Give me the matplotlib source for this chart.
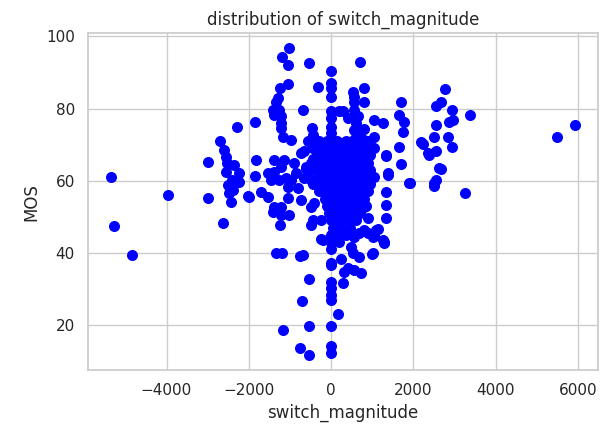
import matplotlib
matplotlib.use("Agg")
import matplotlib.pyplot as plt
import numpy as np
import seaborn as sns

# outlying points, left of the main cluster
left_x = [-5340, -5270, -4830, -3960, -2990, -2990, -2690, -2600, -2620, -2550,
          -2520, -2550, -2500, -2480, -2430, -2350, -2280, -2230, -2230, -2010,
          -1840, -1840, -1820, -1700, -1530, -1380, -1410, -1210, -1210, -1020,
          -1240, -1330, -1190, -750, -530, -700, -1160, -530, -750, -530,
          -680, -240, -1530, -1380, -1460, -1260, -1090, -1040, -970, -1040,
          -1380, -1140, -1210, -2400, -2380, -1990]
left_y = [61.1, 47.5, 39.4, 56.1, 65.3, 55.3, 71.1, 68.6, 48.3, 66.7,
          65.0, 62.5, 58.9, 56.7, 54.2, 64.4, 75.0, 62.2, 59.7, 55.8,
          61.4, 76.4, 65.6, 56.9, 55.6, 52.8, 51.4, 52.8, 50.6, 50.6,
          47.8, 40.0, 40.0, 39.2, 32.8, 26.7, 18.6, 19.7, 13.6, 11.7,
          39.4, 43.9, 62.2, 62.5, 60.3, 60.3, 60.8, 58.3, 60.3, 55.3,
          65.8, 65.8, 63.9, 60.3, 57.5, 55.6]

# points to the right of the main cluster
right_x = [2770, 2550, 2670, 2940, 3370, 2860, 2960, 2550, 2500, 2840,
           2230, 2940, 2380, 2550, 2670, 2550, 2500, 3250, 1920, 1700,
           1650, 1700, 1650, 1770, 1750, 2180, 5490, 5920, 1330, 1380,
           1330, 1330, 1330, 1290, 1020, 1140, 730, 290, 170, 1000,
           680, 320, 560, 1330, 1380, 1260, 1090, 1020, 800, 900,
           800, 560, 680, 1890, 2350, 2620, 2500, 240, 410, 900,
           1040, 490, 530, 1290]
right_y = [85.3, 80.6, 81.7, 79.7, 78.3, 76.4, 76.9, 75.3, 72.2, 72.2,
           70.3, 69.2, 67.2, 68.1, 63.3, 60.3, 58.6, 56.7, 59.4, 64.7,
           69.2, 81.9, 78.3, 76.4, 73.6, 70.6, 72.2, 75.3, 66.9, 61.7,
           56.9, 53.3, 49.7, 43.1, 40.0, 46.7, 34.4, 31.7, 23.1, 39.7,
           38.9, 34.7, 35.3, 67.2, 62.2, 43.6, 46.4, 44.4, 52.8, 49.7,
           46.4, 44.4, 45.6, 59.4, 67.8, 63.6, 59.4, 38.3, 35.8, 45.6,
           44.7, 41.7, 40.0, 42.8]

# upper part of the cluster and the vertical column at zero
upper_x = [-1020, -1190, -1040, -530, 0, 0, 0, 0, -1040, -1240,
           -320, -1290, -1330, -1410, -1260, -1380, -1210, -680, -1210, -1210,
           -460, -440, -440, 0, 0, 0, 0, 0, 0, -1160,
           -970, 190, 700, 800, 530, 560, 560, 800, 290, 410,
           560, 660, 610, 1040, 1260, 800, 1040, 800, -650, -610,
           -450, -450, 550, 600, 500, 700, -730, -610, -490, -660,
           -490, -410, -440, -490, -240, -190, -730, -440, -850, -800,
           -900, 0, 0, 0, 0, 0, 0, 0, 0, 0]
upper_y = [96.7, 94.2, 92.2, 92.5, 90.3, 87.2, 85.8, 83.3, 86.9, 85.8,
           86.1, 82.8, 81.7, 79.7, 79.7, 78.3, 77.8, 79.7, 76.1, 74.7,
           74.7, 72.8, 71.7, 79.2, 77.5, 75.0, 73.3, 71.4, 69.4, 72.2,
           71.4, 79.2, 92.8, 85.8, 84.7, 83.3, 81.9, 81.9, 79.2, 77.5,
           79.7, 77.8, 76.1, 76.9, 76.1, 74.4, 72.2, 71.4, 68.1, 63.9,
           66.0, 69.0, 74.0, 72.0, 70.0, 73.0, 67.8, 63.1, 60.3, 60.8,
           52.8, 53.9, 49.2, 47.8, 49.2, 43.6, 54.7, 71.4, 62.0, 58.0,
           65.0, 36.7, 37.2, 32.0, 30.3, 28.3, 26.9, 19.7, 14.2, 12.2]

# dense core of the distribution
core_x = [-550, -300, -100, 0, 150, 350, 500, 700, 900,
          -450, -200, 50, 250, 450, 650, 850, 1050,
          -350, -150, 0, 200, 400, 600, 800, 950,
          -500, -250, -50, 100, 300, 500, 700, 900,
          -400, -200, 0, 200, 350, 550, 750, 950,
          -550, -300, -100, 50, 250, 450, 650, 850, 1050,
          -450, -200, 0, 150, 350, 550, 750, 950,
          -300, -100, 100, 300, 500, 700, 900,
          -150, 0, 200, 400, 600, 800,
          -100, 50, 250, 450, 650, 850,
          -50, 100, 300, 500, 700,
          0, 200, 400, 600,
          50, 250, 450,
          0, 150, 350,
          0, 200, 0]
core_y = [71, 71, 71, 71, 71, 71, 71, 71, 71,
          69, 69, 69, 69, 69, 69, 69, 69,
          67, 67, 67, 67, 67, 67, 67, 67,
          65, 65, 65, 65, 65, 65, 65, 65,
          63, 63, 63, 63, 63, 63, 63, 63,
          61, 61, 61, 61, 61, 61, 61, 61, 61,
          59, 59, 59, 59, 59, 59, 59, 59,
          57, 57, 57, 57, 57, 57, 57,
          55, 55, 55, 55, 55, 55,
          53, 53, 53, 53, 53, 53,
          51, 51, 51, 51, 51,
          49, 49, 49, 49,
          47, 47, 47,
          45, 45, 45,
          43, 43, 41]

switch_magnitude = np.array(left_x + right_x + upper_x + core_x)
mos = np.array(left_y + right_y + upper_y + core_y)

sns.set_theme(style="whitegrid")

fig = plt.figure(figsize=(6.04, 4.34), dpi=100)
ax = fig.add_axes([0.146, 0.147, 0.844, 0.777])
ax.scatter(switch_magnitude, mos, color="blue", s=48)
ax.set_title("distribution of switch_magnitude")
ax.set_xlabel("switch_magnitude")
ax.set_ylabel("MOS")

fig.savefig("out.png", dpi=100)
